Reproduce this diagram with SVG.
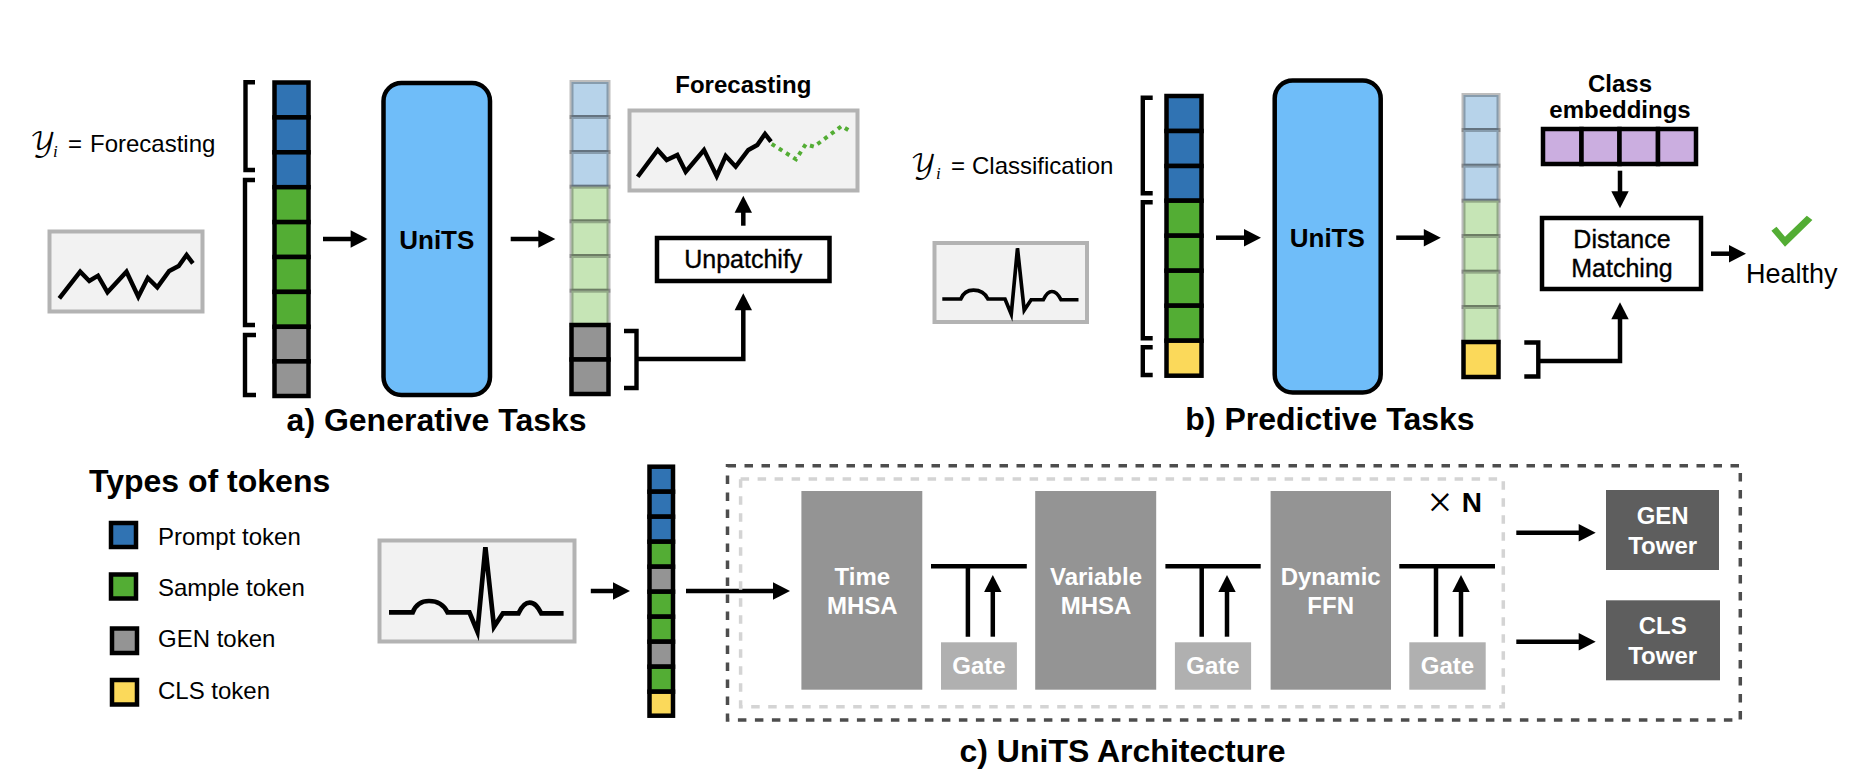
<svg xmlns="http://www.w3.org/2000/svg" xmlns:xlink="http://www.w3.org/1999/xlink" width="1854" height="780" viewBox="0 0 1854 780">
<style>
text{font-family:"Liberation Sans",Arial,sans-serif;fill:#000}
.c{text-anchor:middle}
.b{font-weight:700}
.m{stroke:#000;stroke-width:.35px}
.w{fill:#fff;font-weight:700;font-size:24px;text-anchor:middle}
.t32{font-size:32px;font-weight:700;text-anchor:middle}
.t24{font-size:24px}
.math{font-family:"DejaVu Math TeX Gyre","DejaVu Sans","DejaVu Serif",serif;font-size:26px}
.sub{font-family:"Liberation Serif",serif;font-style:italic;font-size:17px}
.tk{stroke:#000;stroke-width:4.5px}
.bl{fill:#3073b3}.gr{fill:#53ad34}.gy{fill:#949494}.ye{fill:#fbd95a}.pu{fill:#cbaee0}
.fb{fill:#b7d3ea;stroke:#000;stroke-opacity:.26;stroke-width:4px}
.fg{fill:#c6e5b6;stroke:#000;stroke-opacity:.26;stroke-width:4px}
.box{fill:#f2f2f2;stroke:#b3b3b3;stroke-width:4px}
.sig{fill:none;stroke:#000;stroke-width:4.4px;stroke-linejoin:miter}
.ecg{fill:none;stroke:#000;stroke-width:4.7px;stroke-linejoin:miter;stroke-miterlimit:8}
.br{fill:none;stroke:#000;stroke-width:4.4px}
.units{fill:#6fbdf9;stroke:#000;stroke-width:4.5px}
.wb{fill:#fff;stroke:#000;stroke-width:4.5px}
.ln{fill:none;stroke:#000;stroke-width:4.5px}
.ar{fill:none;stroke:#000;stroke-width:4.5px;marker-end:url(#ah)}
.mhsa{fill:#949494}.gate{fill:#b0b0b0}.tower{fill:#5e5e5e}
.d1{fill:none;stroke:#4d4d4d;stroke-width:3.5px;stroke-dasharray:8.5 8.5}
.d2{fill:none;stroke:#d4d4d4;stroke-width:3.5px;stroke-dasharray:8.5 8.5}
</style>
<defs>
<marker id="ah" markerUnits="userSpaceOnUse" markerWidth="18" markerHeight="18" refX="1" refY="8.7" orient="auto" overflow="visible"><path d="M0 0L17 8.7L0 17.4Z" fill="#000"/></marker>
<path id="ecg" d="M389 612.3H412.7C416 604 422 601 429 601C437 601 444 605 447.5 612.3H469.4L477.4 631.7L485.4 547.3L494 626.7L502.9 613.3H518.5C522 606 525 602.7 529.6 602.7C535 602.7 538 607 541.3 613.3H563.6"/>
</defs>

<g id="connectors">
<path class="ar" d="M323 239H351.6"/>
<path class="ar" d="M510.7 239H539.3"/>
<path class="ar" d="M638 359H743.3V309.3"/>
<path class="ar" d="M743.3 225.7V211.7"/>
<path class="ar" d="M1216 237.7H1245"/>
<path class="ar" d="M1396.2 237.7H1424.8"/>
<path class="ar" d="M1540 361H1620V318.3"/>
<path class="ar" d="M1620 170.7V192.3"/>
<path class="ar" d="M1711 253.7H1730"/>
<path class="ar" d="M590.8 591H614"/>
<path class="ar" d="M686 591H774"/>
<path class="ar" d="M1516.3 532.7H1579.7"/>
<path class="ar" d="M1516.3 641.7H1579.7"/>
<path class="ar" d="M992.8 636.7V591"/>
<path class="ar" d="M1227 636.7V591"/>
<path class="ar" d="M1461 636.7V591"/>
<path class="ln" d="M931 566.3H1026.8M967.9 566.3V636.7"/>
<path class="ln" d="M1165.4 566.3H1260.7M1201.7 566.3V636.7"/>
<path class="ln" d="M1399.3 566.3H1495M1436 566.3V636.7"/>
</g>

<g id="label-forecasting-input">
<text class="math" x="30" y="151">&#x1D4B4;</text><text class="sub" x="53" y="157">i</text>
<text class="t24" x="68" y="151.7">=</text><text class="t24" x="90" y="151.7">Forecasting</text>
</g>
<g id="series-input">
<rect class="box" x="49.5" y="231.5" width="153" height="80"/>
<path class="sig" d="M59.3 298.3L80.2 271.7L89.3 281L98 275.7L107.5 292.3L126.5 271.7L138.3 296.7L147.8 278L157.3 287.3L169.2 271L178.7 266L186.6 255L192.9 263.3"/>
</g>
<g id="brackets-a-in">
<path class="br" d="M255 82.3H245.5V170H255"/>
<path class="br" d="M255 180H245V325H255"/>
<path class="br" d="M256 335H245V395H256"/>
</g>
<g id="tokens-a-in">
<rect class="tk bl" x="274.5" y="82.5" width="34" height="34.9"/><rect class="tk bl" x="274.5" y="117.4" width="34" height="34.9"/><rect class="tk bl" x="274.5" y="152.3" width="34" height="34.9"/>
<rect class="tk gr" x="274.5" y="187.2" width="34" height="34.9"/><rect class="tk gr" x="274.5" y="222.1" width="34" height="34.9"/><rect class="tk gr" x="274.5" y="257" width="34" height="34.9"/><rect class="tk gr" x="274.5" y="291.9" width="34" height="34.9"/>
<rect class="tk gy" x="274.5" y="326.8" width="34" height="34.6"/><rect class="tk gy" x="274.5" y="361.4" width="34" height="34.6"/>
</g>
<g id="units-a">
<rect class="units" x="383.5" y="83" width="106.5" height="312" rx="18"/>
<text class="c b" x="436.8" y="249" font-size="26">UniTS</text>
</g>
<g id="tokens-a-out">
<rect class="fb" x="571.5" y="82" width="37" height="35"/><rect class="fb" x="571.5" y="117" width="37" height="35"/><rect class="fb" x="571.5" y="152" width="37" height="34.7"/>
<rect class="fg" x="571.5" y="186.7" width="37" height="34.6"/><rect class="fg" x="571.5" y="221.3" width="37" height="34.7"/><rect class="fg" x="571.5" y="256" width="37" height="34.7"/><rect class="fg" x="571.5" y="290.7" width="37" height="34.3"/>
<rect class="tk gy" x="571.5" y="325" width="37" height="34.5"/><rect class="tk gy" x="571.5" y="359.5" width="37" height="34.5"/>
</g>
<path id="bracket-a-out" class="br" d="M624 331H636.5V388H624"/>
<g id="forecast-title"><text class="c b" x="743.3" y="93.3" font-size="24">Forecasting</text></g>
<g id="forecast-box">
<rect class="box" x="629.5" y="110.5" width="228" height="80"/>
<path class="sig" d="M637.7 176.7L657.7 150L666.7 160L677.3 155L685.7 171.7L704 150L716.7 176L725.7 156L735.7 166.7L748.3 150L757.3 145L765 134L771 141.7"/>
<path fill="none" stroke="#53ad34" stroke-width="4" stroke-dasharray="4 4.5" d="M771.7 144L796 159.3L805.7 144.3L814 146.7L841.7 126L848.3 130"/>
</g>
<g id="unpatchify">
<rect class="wb" x="657" y="238" width="172.5" height="43"/>
<text class="c m" x="743.3" y="268" font-size="25">Unpatchify</text>
</g>
<g id="title-a"><text class="t32" x="436.6" y="431">a) Generative Tasks</text></g>

<g id="label-classification-input">
<text class="math" x="910.5" y="173">&#x1D4B4;</text><text class="sub" x="936" y="179">i</text>
<text class="t24" x="951" y="174">=</text><text class="t24" x="972" y="174">Classification</text>
</g>
<g id="series-class">
<rect class="box" x="934.5" y="243" width="152.5" height="79"/>
<use xlink:href="#ecg" href="#ecg" class="ecg" transform="translate(942.3 299) scale(.78) translate(-389 -612.3)"/>
</g>
<g id="brackets-b-in">
<path class="br" d="M1152.7 97.7H1142.8V193.3H1152.7"/>
<path class="br" d="M1152.7 202.3H1142.8V338.3H1152.7"/>
<path class="br" d="M1152.7 347.3H1142.8V375H1152.7"/>
</g>
<g id="tokens-b-in">
<rect class="tk bl" x="1166.5" y="96" width="35" height="35"/><rect class="tk bl" x="1166.5" y="131" width="35" height="35"/><rect class="tk bl" x="1166.5" y="166" width="35" height="34.7"/>
<rect class="tk gr" x="1166.5" y="200.7" width="35" height="35"/><rect class="tk gr" x="1166.5" y="235.7" width="35" height="35"/><rect class="tk gr" x="1166.5" y="270.7" width="35" height="35"/><rect class="tk gr" x="1166.5" y="305.7" width="35" height="35"/>
<rect class="tk ye" x="1166.5" y="340.7" width="35" height="35"/>
</g>
<g id="units-b">
<rect class="units" x="1274.7" y="80.5" width="106" height="312" rx="18"/>
<text class="c b" x="1327.3" y="246.7" font-size="26">UniTS</text>
</g>
<g id="tokens-b-out">
<rect class="fb" x="1463.5" y="95" width="35" height="35"/><rect class="fb" x="1463.5" y="130" width="35" height="35.7"/><rect class="fb" x="1463.5" y="165.7" width="35" height="35"/>
<rect class="fg" x="1463.5" y="200.7" width="35" height="35.3"/><rect class="fg" x="1463.5" y="236" width="35" height="35.7"/><rect class="fg" x="1463.5" y="271.7" width="35" height="35.3"/><rect class="fg" x="1463.5" y="307" width="35" height="35"/>
<rect class="tk ye" x="1463.5" y="342" width="35" height="35"/>
</g>
<path id="bracket-b-out" class="br" d="M1524.3 342.5H1538.3V376.5H1524.3"/>
<g id="class-embeddings">
<text class="c b" x="1620" y="91.7" font-size="24">Class</text>
<text class="c b" x="1620" y="117.7" font-size="24">embeddings</text>
<rect class="tk pu" x="1543" y="129" width="38.5" height="35"/><rect class="tk pu" x="1581.5" y="129" width="38" height="35"/><rect class="tk pu" x="1619.5" y="129" width="38.5" height="35"/><rect class="tk pu" x="1658" y="129" width="38" height="35"/>
</g>
<g id="distance-matching">
<rect class="wb" x="1542" y="218" width="159" height="71"/>
<text class="c m" x="1622" y="248.3" font-size="25">Distance</text>
<text class="c m" x="1622" y="277.3" font-size="25">Matching</text>
</g>
<g id="healthy">
<polygon fill="#53ad34" points="1785,246.7 1771.4,230.7 1776.5,226.7 1785,236.7 1806.8,215.7 1812.4,220"/>
<text x="1746" y="282.7" font-size="27">Healthy</text>
</g>
<g id="title-b"><text class="t32" x="1330" y="430">b) Predictive Tasks</text></g>

<g id="legend">
<text class="b" x="89" y="491.7" font-size="32">Types of tokens</text>
<rect class="tk bl" x="111" y="523" width="25" height="24"/><text class="t24" x="158" y="545">Prompt token</text>
<rect class="tk gr" x="111" y="574.5" width="25" height="24"/><text class="t24" x="158" y="595.7">Sample token</text>
<rect class="tk gy" x="112" y="628.5" width="25" height="24.5"/><text class="t24" x="158" y="646.7">GEN token</text>
<rect class="tk ye" x="112" y="680" width="25" height="24.5"/><text class="t24" x="158" y="699.3">CLS token</text>
</g>
<g id="series-c">
<rect class="box" x="379.5" y="540.5" width="195" height="101"/>
<use xlink:href="#ecg" href="#ecg" class="ecg"/>
</g>
<g id="tokens-c">
<rect class="tk bl" x="649.5" y="466.7" width="23.5" height="25"/><rect class="tk bl" x="649.5" y="491.7" width="23.5" height="25"/><rect class="tk bl" x="649.5" y="516.7" width="23.5" height="25"/>
<rect class="tk gr" x="649.5" y="541.7" width="23.5" height="25"/><rect class="tk gy" x="649.5" y="566.7" width="23.5" height="25"/>
<rect class="tk gr" x="649.5" y="591.7" width="23.5" height="25"/><rect class="tk gr" x="649.5" y="616.7" width="23.5" height="25"/>
<rect class="tk gy" x="649.5" y="641.7" width="23.5" height="25"/><rect class="tk gr" x="649.5" y="666.7" width="23.5" height="25"/>
<rect class="tk ye" x="649.5" y="691.7" width="23.5" height="24"/>
</g>
<g id="frames">
<rect class="d1" x="727.5" y="465.7" width="1012.8" height="254.3"/>
<rect class="d2" x="740.6" y="479" width="762.7" height="227.7"/>
</g>
<g id="time-mhsa"><rect class="mhsa" x="801.4" y="491" width="120.9" height="198.7"/><text class="w" x="862.3" y="585">Time</text><text class="w" x="862.3" y="614">MHSA</text></g>
<g id="gate-1"><rect class="gate" x="941" y="642.3" width="75.9" height="47.4"/><text class="w" x="979" y="674.3">Gate</text></g>
<g id="variable-mhsa"><rect class="mhsa" x="1035.2" y="491" width="121" height="198.7"/><text class="w" x="1096" y="585">Variable</text><text class="w" x="1096" y="614">MHSA</text></g>
<g id="gate-2"><rect class="gate" x="1174.9" y="642.3" width="76.2" height="47.4"/><text class="w" x="1213" y="674.3">Gate</text></g>
<g id="dynamic-ffn"><rect class="mhsa" x="1270.6" y="491" width="120.4" height="198.7"/><text class="w" x="1330.7" y="585">Dynamic</text><text class="w" x="1330.7" y="614">FFN</text></g>
<g id="gate-3"><rect class="gate" x="1409.3" y="642.3" width="76.4" height="47.4"/><text class="w" x="1447.5" y="674.3">Gate</text></g>
<g id="times-n">
<text class="c" style="font-family:'Liberation Serif',serif" x="1440" y="517" font-size="44">×</text>
<text class="b" x="1461.7" y="511.7" font-size="28">N</text>
</g>
<g id="gen-tower"><rect class="tower" x="1606" y="490" width="113" height="80"/><text class="w" x="1662.7" y="524">GEN</text><text class="w" x="1662.7" y="554">Tower</text></g>
<g id="cls-tower"><rect class="tower" x="1606" y="600.3" width="114" height="80"/><text class="w" x="1662.7" y="634.3">CLS</text><text class="w" x="1662.7" y="664">Tower</text></g>
<g id="title-c"><text class="t32" x="1122.5" y="761.7">c) UniTS Architecture</text></g>
</svg>
